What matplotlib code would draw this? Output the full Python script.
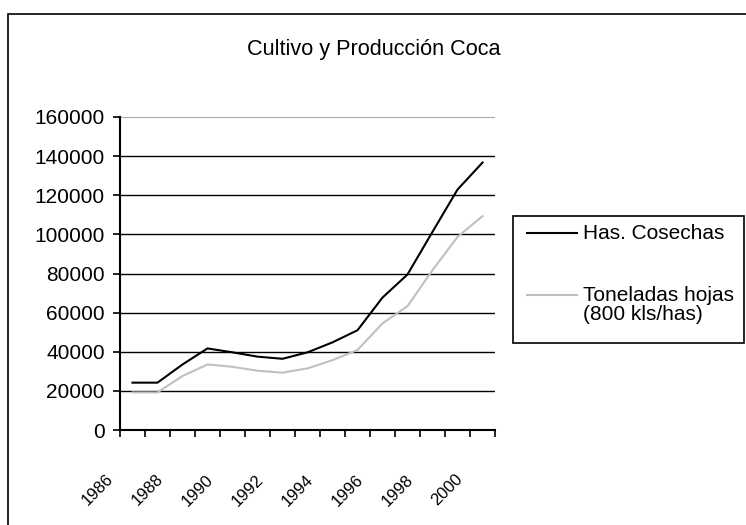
import matplotlib
matplotlib.use('Agg')
import numpy as np
import matplotlib.pyplot as plt
from matplotlib.patches import Rectangle
from matplotlib.lines import Line2D
from matplotlib.transforms import offset_copy
from matplotlib import font_manager

# ---- data ----
years = [1986, 1987, 1988, 1989, 1990, 1991, 1992, 1993, 1994, 1995,
         1996, 1997, 1998, 1999, 2000]
has_cosechas = [24200, 24200, 33500, 41700, 39700, 37500, 36400, 39700,
                44800, 51000, 67700, 79500, 101300, 122900, 136700]
toneladas_hojas = [19200, 19200, 27600, 33500, 32300, 30300, 29300, 31500,
                   35700, 40900, 54500, 63300, 81700, 98700, 109300]
year_labels = ['1986', '1988', '1990', '1992', '1994', '1996', '1998', '2000']
y_ticks = [0, 20000, 40000, 60000, 80000, 100000, 120000, 140000, 160000]
title = 'Cultivo y Producción Coca'
series_names = ['Has. Cosechas', 'Toneladas hojas\n(800 kls/has)']
series_colors = ['black', '#c0c0c0']

plt.rcParams['font.family'] = ['Liberation Sans', 'DejaVu Sans']
W, H = 746, 525
fig = plt.figure(figsize=(W / 100, H / 100), dpi=100)
FS = 15

names = {f.name for f in font_manager.fontManager.ttflist}
narrow = ['Liberation Sans Narrow'] if 'Liberation Sans Narrow' in names else []
xl_family = narrow + ['Liberation Sans', 'DejaVu Sans']
xl_size = FS if narrow else 12

# outer chart border
fig.patches.append(Rectangle((8 / W, -0.1), 1.2, 1 - 14 / H + 0.1,
                             transform=fig.transFigure, fill=False,
                             ec='black', lw=1.2))

ax = fig.add_axes([120 / W, 1 - 430 / H, 375 / W, 313 / H])
x = np.arange(len(years))

for yv in y_ticks[1:]:
    if yv == y_ticks[-1]:
        ax.axhline(yv, color='#a8a8a8', lw=0.8, zorder=1)
    else:
        ax.axhline(yv, color='black', lw=1.0, zorder=1)

ax.plot(x, has_cosechas, color=series_colors[0], lw=1.5, zorder=3)
ax.plot(x, toneladas_hojas, color=series_colors[1], lw=1.5, zorder=2)

ax.set_xlim(-0.5, len(years) - 0.5)
ax.set_ylim(y_ticks[0], y_ticks[-1])
ax.set_yticks(y_ticks)
ax.set_yticklabels([str(v) for v in y_ticks])
ax.set_xticks(np.arange(-0.5, len(years), 1.0))
ax.set_xticklabels([])
ax.tick_params(axis='both', direction='out', length=5, width=1.2,
               color='black', labelsize=FS)
ax.tick_params(axis='y', pad=6)
for s in ['top', 'right']:
    ax.spines[s].set_visible(False)
for s in ['left', 'bottom']:
    ax.spines[s].set_linewidth(1.5)

lab_tr = offset_copy(ax.get_xaxis_transform(), fig=fig, x=-22, y=-47,
                     units='dots')
for lab in year_labels:
    pos = years.index(int(lab))
    ax.text(pos, 0, lab, transform=lab_tr, rotation=45,
            rotation_mode='anchor', ha='right', va='center',
            fontsize=xl_size, family=xl_family, clip_on=False)

fig.text(374 / W, 1 - 50 / H, title, ha='center', va='center',
         fontsize=FS * 1.04)

# legend
fig.patches.append(Rectangle((513 / W, 1 - 343 / H), (744 - 513) / W,
                             (343 - 216) / H, transform=fig.transFigure,
                             fill=False, ec='black', lw=1.2))
leg_y = [233, 295]
for name, col, ly in zip(series_names, series_colors, leg_y):
    fig.lines.append(Line2D([527 / W, 577 / W], [1 - ly / H] * 2,
                            transform=fig.transFigure, color=col, lw=1.5))
    nlines = name.count('\n') + 1
    fig.text(583 / W, 1 - (ly + 10 * (nlines - 1)) / H, name, ha='left',
             va='center', fontsize=FS, linespacing=1.0)

fig.savefig('out.png', dpi=100)
